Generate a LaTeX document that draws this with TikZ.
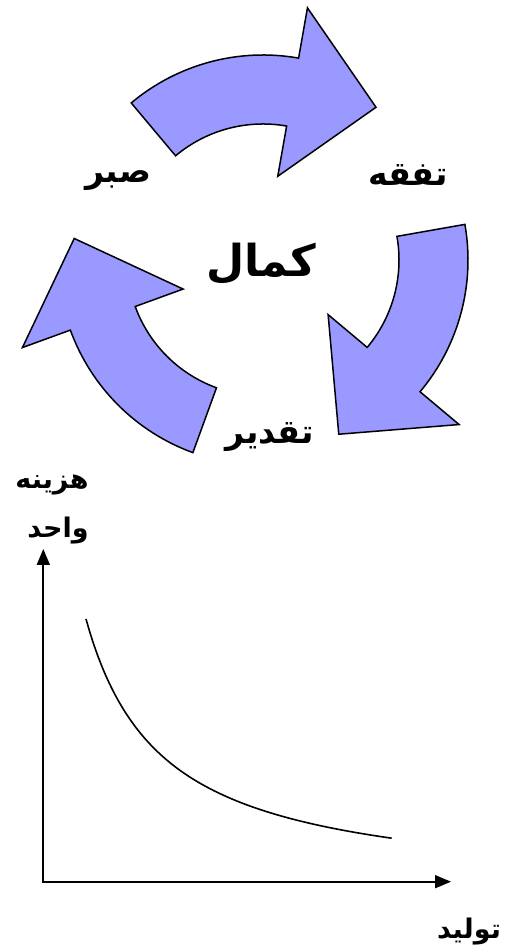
\documentclass[tikz,border=0pt]{standalone}
\usepackage{fontspec}
\newfontfamily\arabicfont[Script=Arabic]{DejaVu Sans}
\TeXXeTstate=1
\usetikzlibrary{arrows.meta}
\definecolor{arrowblue}{RGB}{153,153,255}
\tikzset{
  cyclearrow/.style={draw, line width=1.5pt, fill=arrowblue, line join=miter},
  cyclelab/.style={font=\arabicfont\bfseries\fontsize{33}{36}\selectfont, inner sep=0pt},
  centrelab/.style={font=\arabicfont\bfseries\fontsize{44}{48}\selectfont, inner sep=0pt},
  axislab/.style={font=\arabicfont\bfseries\fontsize{27}{49}\selectfont, inner sep=0pt, align=right},
  axisline/.style={line width=1.8pt, line join=miter, {Triangle[length=16pt,width=13pt]}-{Triangle[length=16pt,width=13pt]}},
  costcurve/.style={line width=1.6pt}
}

\begin{document}
\begin{tikzpicture}[x=1pt,y=1pt]
  \useasboundingbox (0,0) rectangle (505,949);
  \coordinate (ctr) at (263,689);

  \foreach \a in {130,10,250}
    \draw[cyclearrow] ([shift={(\a:205)}]ctr) arc[start angle=\a, end angle=\a-50, radius=205pt]
      -- ([shift={(\a-50:256)}]ctr) -- ([shift={(\a-76.5:190)}]ctr) -- ([shift={(\a-50:85)}]ctr)
      -- ([shift={(\a-50:136)}]ctr) arc[start angle=\a-50, end angle=\a, radius=136pt] -- cycle;

  \node[cyclelab] (tafaqqoh) at (408,774) {\beginR تفقه\endR};
  \node[cyclelab] (sabr) at (118,768) {\beginR صبر\endR};
  \node[cyclelab] (taqdir) at (270,512) {\beginR تقدیر\endR};
  \node[centrelab] (kamal) at (261,685) {\beginR کمال\endR};

  \coordinate (orig) at (43.3,67.3);
  \coordinate (ytip) at (43.3,400);
  \coordinate (xtip) at (451,67.3);
  \draw[axisline] (ytip) -- (orig) -- (xtip);

  \node[axislab] (cost) at (52,440) {\beginR هزینه\endR\\\beginR واحد\endR};
  \node[axislab] (output) at (469,17) {\beginR تولید\endR};

  \draw[costcurve] plot[domain=86:391.7, samples=80, smooth] (\x, {56.3+208/((\x-10)/100)});
\end{tikzpicture}
\end{document}
